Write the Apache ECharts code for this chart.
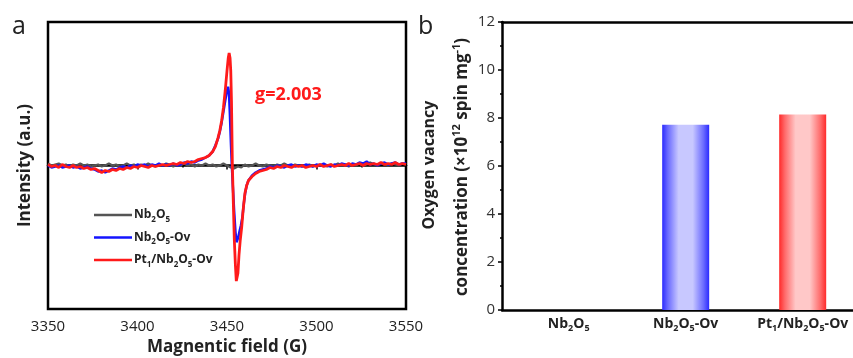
<!DOCTYPE html>
<html><head><meta charset="utf-8">
<script src="https://cdn.jsdelivr.net/npm/echarts@6/dist/echarts.min.js"></script>
<style>html,body{margin:0;padding:0;background:#fff}#c{width:853px;height:358px}</style>
</head><body><div id="c"></div>
<script>
// ---------- Panel a: EPR spectra ----------
const fieldGrey = [3350,3352,3354,3356,3358,3360,3362,3364,3366,3368,3370,3372,3374,3376,3378,3380,3382,3384,3386,3388,3390,3392,3394,3396,3398,3400,3402,3404,3406,3408,3410,3412,3414,3416,3418,3420,3422,3424,3426,3428,3430,3432,3434,3436,3438,3440,3442,3444,3446,3448,3450,3452,3454,3456,3458,3460,3462,3464,3466,3468,3470,3472,3474,3476,3478,3480,3482,3484,3486,3488,3490,3492,3494,3496,3498,3500,3502,3504,3506,3508,3510,3512,3514,3516,3518,3520,3522,3524,3526,3528,3530,3532,3534,3536,3538,3540,3542,3544,3546,3548,3550];
const intensityGrey = [2,0,1,2,0,1,-1,1,0,2,0,1,-1,0,1,-1,0,2,0,1,-1,0,2,0,1,-1,1,0,2,0,-1,1,0,2,1,-1,1,0,2,0,1,-1,1,0,2,0,1,-1,0,2,0,-2,-3,-1,-2,1,-1,0,2,0,-1,1,0,-1,1,0,2,0,-1,1,0,-1,0,1,-1,0,1,0,-1,1,0,2,0,1,-1,1,0,2,0,1,3,1,0,2,1,0,2,1,0,2,1];

const fieldBlue = [3350,3352,3354,3356,3358,3360,3362,3364,3366,3368,3370,3372,3374,3376,3378,3380,3382,3384,3386,3388,3390,3392,3394,3396,3398,3400,3402,3404,3406,3408,3410,3412,3414,3416,3418,3420,3422,3424,3426,3428,3430,3432,3434,3436,3438,3440,3442,3443.5,3445,3446,3447,3448,3449,3450,3450.6,3451.1,3451.6,3452.2,3452.7,3453.3,3454,3454.7,3455.3,3455.8,3456.3,3457,3457.8,3458.6,3459.4,3460.2,3461,3462,3464,3466,3468,3470,3472,3474,3476,3478,3480,3482,3484,3486,3488,3490,3492,3494,3496,3498,3500,3502,3504,3506,3508,3510,3512,3514,3516,3518,3520,3522,3524,3526,3528,3530,3532,3534,3536,3538,3540,3542,3544,3546,3548,3550];
const intensityBlue = [0,-2,-1,0,-2,-1,0,-2,-1,-3,-2,-1,-3,-4,-6,-5,-7,-5,-3,-4,-2,-1,-2,0,-1,1,0,1,-1,1,0,2,0,1,0,2,0,1,3,2,4,3,5,6,8,10,14,20,27,34,43,54,65,75,79,73,52,22,0,-22,-46,-66,-77,-77,-72,-66,-60,-52,-38,-27,-20,-15,-10,-7,-5,-4,-3,-1,-2,0,-1,-2,0,1,-1,0,-1,1,0,-1,1,0,2,0,-1,1,0,2,1,0,2,1,3,2,4,1,2,0,2,3,1,2,3,1,2,2];

const fieldRed = [3350,3352,3354,3356,3358,3360,3362,3364,3366,3368,3370,3372,3374,3376,3378,3380,3382,3384,3386,3388,3390,3392,3394,3396,3398,3400,3402,3404,3406,3408,3410,3412,3414,3416,3418,3420,3422,3424,3426,3428,3430,3432,3434,3436,3438,3440,3442,3443.5,3445,3446,3447,3448,3449,3450,3450.7,3451.2,3451.7,3452.1,3452.5,3453,3453.5,3454.1,3454.7,3455.2,3455.6,3456.1,3456.7,3457.4,3458.2,3459,3460,3461,3462,3464,3466,3468,3470,3472,3474,3476,3478,3480,3482,3484,3486,3488,3490,3492,3494,3496,3498,3500,3502,3504,3506,3508,3510,3512,3514,3516,3518,3520,3522,3524,3526,3528,3530,3532,3534,3536,3538,3540,3542,3544,3546,3548,3550];
const intensityRed = [1,-1,0,-2,1,-1,-2,0,-2,-1,-3,-2,-4,-3,-5,-7,-5,-6,-4,-5,-3,-4,-2,-3,-1,-2,0,-1,-2,0,-1,0,1,0,1,2,1,3,2,4,3,4,6,7,8,10,14,19,28,35,45,58,75,95,108,113,108,95,65,0,-35,-75,-100,-116,-117,-108,-90,-75,-62,-45,-28,-20,-15,-11,-8,-6,-5,-4,-2,-3,-1,-2,0,-1,-2,0,-1,0,-2,-1,0,-1,1,-1,0,1,-1,0,1,0,2,0,1,2,0,2,1,2,1,3,1,2,1,3,1,2,1];

const seriesNames = ['Nb2O5', 'Nb2O5-Ov', 'Pt1/Nb2O5-Ov'];
const fieldTicks = [3350, 3400, 3450, 3500, 3550];

// ---------- Panel b: oxygen vacancy concentration ----------
const categories = ['Nb2O5', 'Nb2O5-Ov', 'Pt1/Nb2O5-Ov'];
const concentration = [0, 7.72, 8.15];
const concTicks = [0, 2, 4, 6, 8, 10, 12];

const FONT = '"Open Sans", Lato, sans-serif';
const zip = (xs, ys) => xs.map((x, i) => [x, ys[i]]);

const richName = {
  'Nb2O5': '{n|Nb}{s|2}{n|O}{s|5}',
  'Nb2O5-Ov': '{n|Nb}{s|2}{n|O}{s|5}{n|-Ov}',
  'Pt1/Nb2O5-Ov': '{n|Pt}{s|1}{n|/Nb}{s|2}{n|O}{s|5}{n|-Ov}'
};

function gradient(dark, mid, light) {
  return new echarts.graphic.LinearGradient(0, 0, 1, 0, [
    {offset: 0, color: dark}, {offset: 0.12, color: mid}, {offset: 0.35, color: light},
    {offset: 0.65, color: light}, {offset: 0.88, color: mid}, {offset: 1, color: dark}
  ]);
}
const barColors = [
  '#ffffff',
  gradient('#2a2aff', '#6a6aff', '#c8c8ff'),
  gradient('#ff2a2a', '#ff6a6a', '#ffc8c8')
];

const chart = echarts.init(document.getElementById('c'), null, {renderer: 'canvas'});
chart.setOption({
  animation: false,
  backgroundColor: '#fff',
  textStyle: {fontFamily: FONT},
  grid: [
    {left: 48, right: 447, top: 22, bottom: 49, outerBoundsMode: 'none', containLabel: false,
      show: true, borderColor: '#000', borderWidth: 2.5, backgroundColor: 'transparent'},
    {left: 502, right: 0, top: 22, bottom: 48, outerBoundsMode: 'none', containLabel: false, show: false}
  ],
  legend: {
    data: seriesNames,
    orient: 'vertical',
    icon: 'rect',
    left: 89, top: 204,
    itemWidth: 38, itemHeight: 2.5, itemGap: 8,
    formatter: n => richName[n],
    textStyle: {
      padding: [0, 0, 0, -3],
      rich: {
        n: {fontSize: 12, fontWeight: 'bold', color: '#222', fontFamily: FONT, lineHeight: 17},
        s: {fontSize: 8, fontWeight: 'bold', color: '#222', fontFamily: FONT, lineHeight: 11, verticalAlign: 'bottom'}
      }
    }
  },
  xAxis: [
    {
      gridIndex: 0, type: 'value', min: 3350, max: 3550, interval: 50,
      axisLine: {show: true, lineStyle: {color: '#000', width: 2.5}},
      axisTick: {show: true, length: 4, lineStyle: {color: '#000', width: 1.5}},
      minorTick: {show: true, splitNumber: 2, length: 2, lineStyle: {color: '#000', width: 1.5}},
      splitLine: {show: false},
      axisLabel: {fontSize: 15, color: '#222', margin: 10, fontFamily: FONT,
        formatter: v => fieldTicks.includes(v) ? String(v) : ''},
      name: 'Magnentic field (G)', nameLocation: 'middle', nameGap: 26,
      nameTextStyle: {fontSize: 17, fontWeight: 'bold', color: '#222', fontFamily: FONT}
    },
    {
      gridIndex: 1, type: 'value', min: 0.43, max: 3.43,
      axisLine: {show: true, lineStyle: {color: '#000', width: 2.5}},
      axisTick: {show: false},
      splitLine: {show: false},
      axisLabel: {
        margin: 5,
        customValues: [1, 2, 3],
        formatter: v => { const c = categories[Math.round(v) - 1]; return c ? richName[c] : ''; },
        rich: {
          n: {fontSize: 14, fontWeight: 'bold', color: '#222', fontFamily: FONT, lineHeight: 18},
          s: {fontSize: 9, fontWeight: 'bold', color: '#222', fontFamily: FONT, lineHeight: 11, verticalAlign: 'bottom'}
        }
      }
    },
    {
      gridIndex: 1, type: 'value', position: 'top', min: 0.43, max: 3.43,
      axisLine: {show: true, lineStyle: {color: '#000', width: 2.5}},
      axisTick: {show: false}, axisLabel: {show: false}, splitLine: {show: false}
    }
  ],
  yAxis: [
    {
      gridIndex: 0, type: 'value', min: -144, max: 144, interval: 48,
      axisLine: {show: false}, axisTick: {show: false}, axisLabel: {show: false}, splitLine: {show: false},
      name: 'Intensity (a.u.)', nameLocation: 'middle', nameGap: 14, nameRotate: 90,
      nameTextStyle: {fontSize: 17, fontWeight: 'bold', color: '#222', fontFamily: FONT}
    },
    {
      gridIndex: 1, type: 'value', min: 0, max: 12, interval: 2,
      axisLine: {show: true, lineStyle: {color: '#000', width: 2.5}},
      axisTick: {show: true, inside: false, length: 4, lineStyle: {color: '#000', width: 1.5}},
      minorTick: {show: true, splitNumber: 2, length: 2, lineStyle: {color: '#000', width: 1.5}},
      splitLine: {show: false},
      axisLabel: {fontSize: 15, color: '#333', margin: 7, fontFamily: FONT,
        formatter: v => concTicks.includes(v) ? String(v) : ''}
    }
  ],
  series: [
    {name: seriesNames[0], type: 'line', xAxisIndex: 0, yAxisIndex: 0, symbol: 'none', data: zip(fieldGrey, intensityGrey),
      lineStyle: {color: '#555', width: 2.2}, itemStyle: {color: '#555'}},
    {name: seriesNames[1], type: 'line', xAxisIndex: 0, yAxisIndex: 0, symbol: 'none', data: zip(fieldBlue, intensityBlue),
      lineStyle: {color: '#1414ff', width: 2.5}, itemStyle: {color: '#1414ff'}},
    {name: seriesNames[2], type: 'line', xAxisIndex: 0, yAxisIndex: 0, symbol: 'none', data: zip(fieldRed, intensityRed),
      lineStyle: {color: '#ff1a1a', width: 2.8}, itemStyle: {color: '#ff1a1a'}},
    {name: 'conc', type: 'bar', xAxisIndex: 1, yAxisIndex: 1, barWidth: 47,
      data: categories.map((c, i) => ({value: [i + 1, concentration[i]], itemStyle: {color: barColors[i]}}))}
  ],
  graphic: [
    {type: 'text', left: 12, top: 14, style: {text: 'a', font: '25px ' + FONT, fill: '#222'}},
    {type: 'text', left: 418, top: 14, style: {text: 'b', font: '25px ' + FONT, fill: '#222'}},
    {type: 'text', left: 255, top: 86, style: {text: 'g=2.003', font: 'bold 18px ' + FONT, fill: '#ff1a1a'}},
    {type: 'text', x: 429, y: 165, rotation: Math.PI / 2,
      style: {text: 'Oxygen vacancy', font: 'bold 16px ' + FONT, fill: '#222', align: 'center', verticalAlign: 'middle'}},
    {type: 'text', x: 462, y: 167, rotation: Math.PI / 2,
      style: {
        text: '{t|concentration (×10}{p|12}{t| spin mg}{p|-1}{t|)}', align: 'center', verticalAlign: 'middle',
        rich: {
          t: {fontSize: 17, fontWeight: 'bold', fill: '#222', fontFamily: FONT, lineHeight: 22},
          p: {fontSize: 11, fontWeight: 'bold', fill: '#222', fontFamily: FONT, lineHeight: 12, verticalAlign: 'top'}
        }
      }}
  ]
});
</script></body></html>
